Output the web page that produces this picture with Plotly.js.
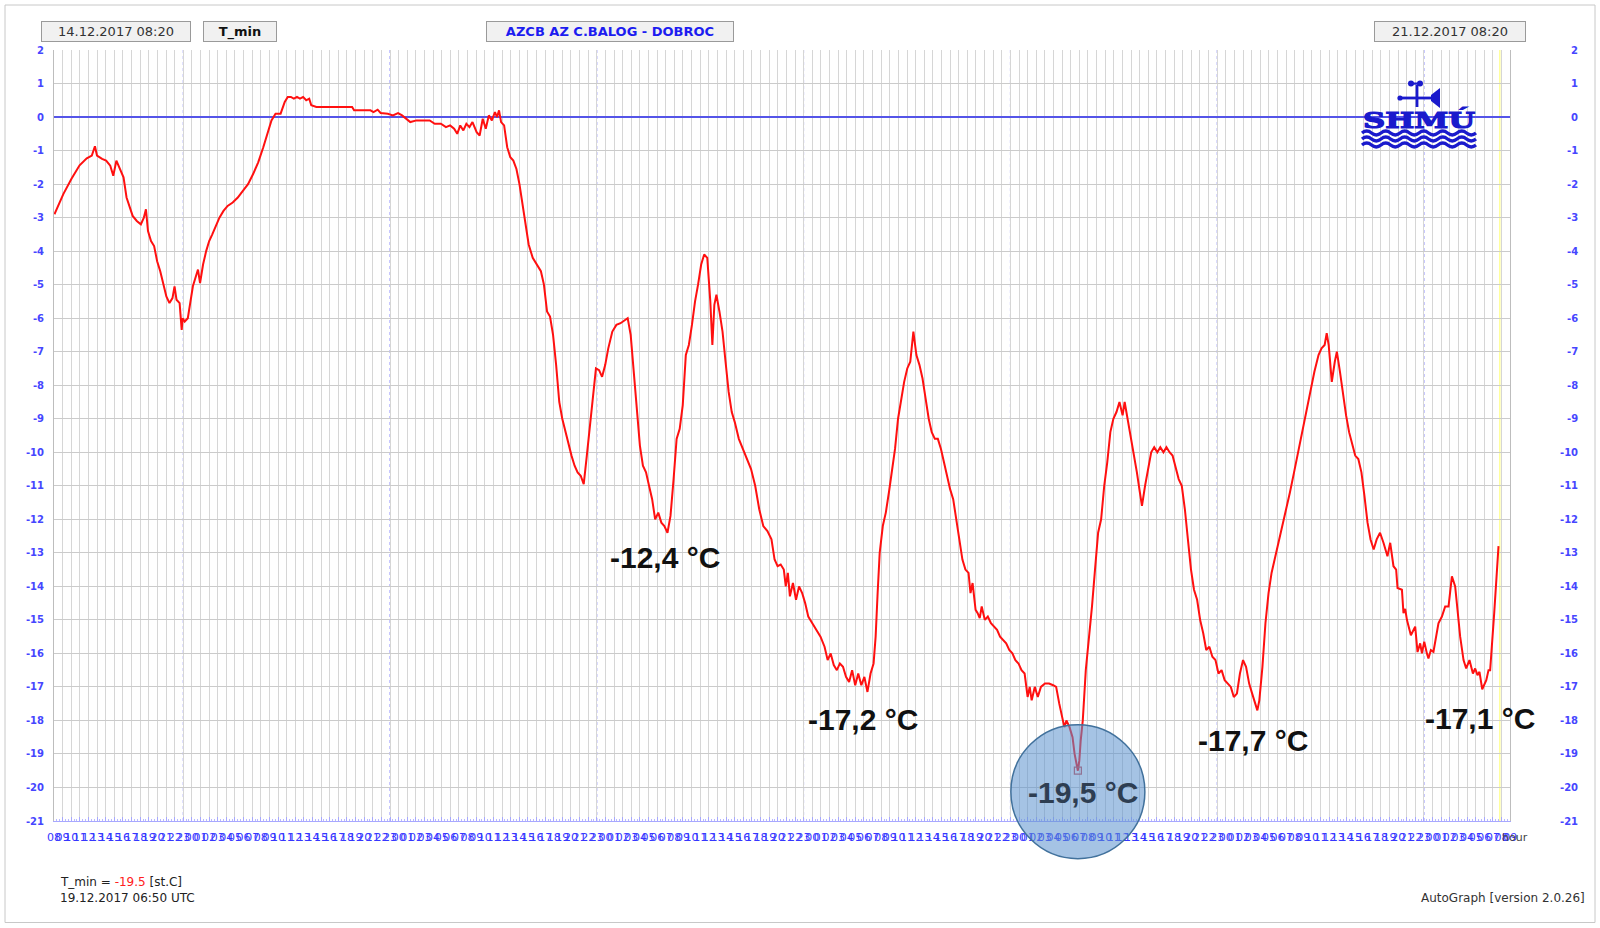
<!DOCTYPE html>
<html>
<head>
<meta charset="utf-8">
<script src="https://cdn.plot.ly/plotly-3.0.1.min.js"></script>
<style>
html,body{margin:0;padding:0;background:#fff;}
#chart{width:1600px;height:928px;}
</style>
</head>
<body>
<div id="chart"></div>
<script>
// ---- DATA ----
// hours since 14.12.2017 08:00 UTC
const hoursSinceStart = [
 0.05, 1.08, 2.03, 2.97, 3.80, 4.39, 4.75, 4.99, 5.58, 6.05,
 6.53, 6.88, 7.24, 7.59, 8.07, 8.42, 8.78, 9.13, 9.61, 10.08,
 10.43, 10.67, 10.91, 11.26, 11.62, 11.97, 12.33, 12.68, 13.04, 13.40,
 13.75, 13.99, 14.22, 14.58, 14.82, 14.93, 15.17, 15.53, 15.76, 16.12,
 16.47, 16.71, 16.95, 17.30, 17.66, 18.01, 18.37, 18.73, 19.20, 19.67,
 20.15, 20.74, 21.33, 21.92, 22.52, 23.11, 23.70, 24.29, 24.77, 25.24,
 25.71, 26.30, 26.78, 27.13, 27.49, 27.84, 28.20, 28.55, 28.91, 29.27,
 29.62, 29.86, 30.45, 31.64, 32.82, 34.00, 34.60, 34.83, 35.78, 36.73,
 37.08, 37.56, 37.91, 38.74, 39.33, 39.93, 40.40, 40.87, 41.35, 42.06,
 42.89, 43.60, 44.19, 44.90, 45.49, 45.97, 46.44, 46.80, 47.15, 47.51,
 47.86, 48.22, 48.57, 49.05, 49.40, 49.76, 50.11, 50.47, 50.82, 51.18,
 51.42, 51.65, 51.89, 52.24, 52.60, 52.96, 53.31, 53.67, 54.02, 54.38,
 54.73, 55.09, 55.56, 56.03, 56.51, 56.86, 57.22, 57.57, 57.92, 58.28,
 58.64, 58.99, 59.35, 59.70, 60.06, 60.42, 60.77, 61.13, 61.48, 61.84,
 62.19, 62.55, 62.90, 63.26, 63.61, 63.97, 64.33, 64.80, 65.27, 65.75,
 66.22, 66.58, 66.93, 67.29, 67.64, 68.00, 68.35, 68.71, 69.06, 69.42,
 69.77, 70.13, 70.49, 70.84, 71.20, 71.55, 71.91, 72.26, 72.62, 72.97,
 73.33, 73.68, 74.04, 74.40, 74.75, 75.11, 75.46, 75.82, 76.17, 76.41,
 76.64, 76.88, 77.23, 77.59, 77.94, 78.30, 78.66, 79.01, 79.48, 79.96,
 80.43, 80.90, 81.38, 81.85, 82.32, 82.80, 83.27, 83.63, 83.98, 84.34,
 84.70, 84.93, 85.17, 85.41, 85.76, 86.12, 86.47, 86.83, 87.18, 87.54,
 88.01, 88.49, 88.96, 89.43, 89.79, 90.14, 90.50, 90.86, 91.21, 91.57,
 91.92, 92.28, 92.63, 92.99, 93.34, 93.70, 94.05, 94.41, 94.77, 95.12,
 95.36, 95.59, 95.83, 96.19, 96.54, 96.90, 97.25, 97.61, 97.96, 98.32,
 98.67, 99.03, 99.38, 99.74, 100.09, 100.45, 100.80, 101.16, 101.52, 101.87,
 102.23, 102.58, 102.94, 103.29, 103.65, 104.00, 104.36, 104.71, 105.07, 105.43,
 105.78, 106.14, 106.37, 106.61, 106.96, 107.20, 107.44, 107.67, 108.03, 108.38,
 108.74, 109.09, 109.45, 109.80, 110.16, 110.51, 110.87, 111.23, 111.58, 111.94,
 112.29, 112.65, 113.00, 113.24, 113.47, 113.83, 114.18, 114.54, 115.01, 115.49,
 115.96, 116.31, 116.67, 117.03, 117.26, 117.50, 117.86, 118.21, 118.45, 118.83,
 119.00, 119.16, 119.40, 119.75, 120.11, 120.47, 120.82, 121.18, 121.53, 121.89,
 122.24, 122.60, 122.95, 123.31, 123.66, 124.02, 124.26, 124.61, 124.97, 125.32,
 125.68, 126.03, 126.27, 126.63, 126.98, 127.34, 127.69, 128.05, 128.40, 128.76,
 129.11, 129.47, 129.82, 130.18, 130.53, 130.89, 131.25, 131.60, 131.96, 132.31,
 132.67, 133.02, 133.38, 133.73, 134.09, 134.44, 134.80, 135.15, 135.51, 135.87,
 136.22, 136.58, 136.93, 137.29, 137.64, 138.00, 138.35, 138.71, 139.06, 139.42,
 139.66, 139.89, 140.25, 140.60, 140.96, 141.31, 141.67, 142.02, 142.49, 142.97,
 143.44, 143.92, 144.39, 144.86, 145.34, 145.81, 146.28, 146.76, 147.11, 147.47,
 147.71, 147.94, 148.30, 148.65, 148.89, 149.25, 149.60, 149.96, 150.31, 150.67,
 151.02, 151.38, 151.74, 152.09, 152.45, 152.80, 153.16, 153.51, 153.90, 154.30,
 154.76, 155.08, 155.46, 155.77, 155.93, 156.44, 156.62, 156.82, 157.02, 157.48,
 157.98, 158.25, 158.56, 158.76, 159.03, 159.34, 159.52, 159.80, 160.10, 160.68,
 161.08, 161.46, 161.85, 162.24, 162.62, 163.20, 163.59, 163.90, 164.28, 164.68,
 164.94, 165.21, 165.44, 165.76, 166.23, 166.49, 166.68, 167.15, 167.65
];
const tMin = [
 -2.9, -2.3, -1.84, -1.44, -1.23, -1.15, -0.87, -1.15, -1.25, -1.3,
 -1.45, -1.75, -1.3, -1.5, -1.8, -2.4, -2.7, -2.95, -3.1, -3.2,
 -3.0, -2.75, -3.4, -3.7, -3.85, -4.3, -4.6, -5.0, -5.35, -5.55,
 -5.4, -5.05, -5.45, -5.55, -6.35, -6.0, -6.1, -6.0, -5.6, -5.05,
 -4.75, -4.55, -4.95, -4.4, -4.0, -3.7, -3.5, -3.3, -3.0, -2.8,
 -2.65, -2.55, -2.4, -2.2, -2.0, -1.7, -1.35, -0.9, -0.5, -0.1,
 0.1, 0.1, 0.45, 0.6, 0.6, 0.55, 0.6, 0.55, 0.6, 0.5,
 0.55, 0.35, 0.3, 0.3, 0.3, 0.3, 0.3, 0.2, 0.2, 0.2,
 0.15, 0.22, 0.12, 0.1, 0.05, 0.12, 0.05, -0.05, -0.15, -0.1,
 -0.1, -0.1, -0.2, -0.2, -0.3, -0.25, -0.35, -0.5, -0.25, -0.4,
 -0.2, -0.3, -0.15, -0.45, -0.55, -0.05, -0.35, 0.05, -0.1, 0.15,
 0.0, 0.2, -0.15, -0.25, -0.9, -1.2, -1.3, -1.55, -2.0, -2.6,
 -3.2, -3.8, -4.2, -4.4, -4.6, -5.0, -5.8, -5.95, -6.5, -7.4,
 -8.5, -9.0, -9.4, -9.7, -10.1, -10.4, -10.6, -10.7, -10.95, -10.1,
 -9.2, -8.3, -7.5, -7.55, -7.75, -7.4, -6.9, -6.4, -6.2, -6.15,
 -6.05, -6.0, -6.5, -7.6, -8.8, -9.8, -10.4, -10.6, -11.0, -11.4,
 -12.0, -11.8, -12.1, -12.2, -12.4, -11.9, -10.8, -9.6, -9.3, -8.6,
 -7.1, -6.8, -6.2, -5.5, -5.0, -4.4, -4.1, -4.2, -5.5, -6.8,
 -5.6, -5.3, -5.8, -6.4, -7.3, -8.2, -8.8, -9.1, -9.6, -9.9,
 -10.2, -10.5, -11.0, -11.7, -12.2, -12.35, -12.6, -13.2, -13.4, -13.35,
 -13.5, -14.0, -13.6, -14.3, -13.9, -14.4, -14.0, -14.2, -14.5, -14.9,
 -15.1, -15.3, -15.5, -15.8, -16.2, -16.0, -16.35, -16.5, -16.3, -16.4,
 -16.7, -16.85, -16.5, -16.95, -16.6, -16.95, -16.7, -17.15, -16.6, -16.3,
 -15.5, -14.2, -13.0, -12.2, -11.8, -11.2, -10.6, -9.9, -9.0, -8.4,
 -7.9, -7.5, -7.3, -6.4, -7.1, -7.4, -7.8, -8.4, -9.0, -9.4,
 -9.6, -9.6, -9.9, -10.3, -10.7, -11.1, -11.4, -12.0, -12.6, -13.2,
 -13.5, -13.6, -14.2, -13.9, -14.7, -14.8, -14.95, -14.6, -15.0, -14.9,
 -15.1, -15.2, -15.3, -15.5, -15.6, -15.7, -15.9, -16.0, -16.2, -16.3,
 -16.5, -16.6, -17.3, -17.0, -17.4, -17.0, -17.3, -17.0, -16.9, -16.9,
 -16.95, -17.0, -17.5, -18.0, -18.2, -18.0, -18.2, -18.5, -19.0, -19.5,
 -19.2, -18.6, -18.0, -16.5, -15.6, -14.6, -13.5, -12.4, -12.0, -11.0,
 -10.3, -9.4, -9.0, -8.8, -8.5, -8.9, -8.5, -9.0, -9.5, -10.0,
 -10.6, -11.2, -11.6, -11.0, -10.5, -10.0, -9.85, -10.0, -9.85, -10.0,
 -9.85, -10.0, -10.1, -10.5, -10.8, -11.0, -11.7, -12.6, -13.5, -14.1,
 -14.4, -15.0, -15.4, -15.9, -15.8, -16.1, -16.2, -16.6, -16.5, -16.8,
 -16.9, -17.0, -17.3, -17.2, -16.6, -16.2, -16.4, -16.9, -17.2, -17.5,
 -17.7, -17.4, -16.4, -15.1, -14.2, -13.6, -13.2, -12.8, -12.3, -11.8,
 -11.2, -10.6, -10.0, -9.5, -8.8, -8.2, -7.6, -7.1, -6.9, -6.8,
 -6.45, -6.8, -7.9, -7.3, -7.0, -7.6, -8.3, -8.9, -9.4, -9.8,
 -10.1, -10.2, -10.6, -11.3, -12.1, -12.6, -12.9, -12.6, -12.4, -12.7,
 -13.1, -12.7, -13.4, -13.5, -14.05, -14.1, -14.8, -14.67, -15.0, -15.46,
 -15.2, -15.96, -15.7, -16.0, -15.65, -16.0, -16.15, -15.9, -15.95, -15.1,
 -14.9, -14.6, -14.6, -13.7, -14.0, -15.5, -16.2, -16.45, -16.2, -16.6,
 -16.45, -16.65, -16.55, -17.07, -16.8, -16.5, -16.5, -14.8, -12.8
];
const yTickVals = [2, 1, 0, -1, -2, -3, -4, -5, -6, -7, -8, -9, -10, -11, -12, -13, -14, -15, -16, -17, -18, -19, -20, -21];
const dayLineTimes = ['2017-12-14 23:00', '2017-12-15 23:00', '2017-12-16 23:00', '2017-12-17 23:00', '2017-12-18 23:00', '2017-12-19 23:00', '2017-12-20 23:00'];
const minLabels = ['-12,4 °C', '-17,2 °C', '-19,5 °C', '-17,7 °C', '-17,1 °C'];
const startLabel = '14.12.2017 08:20';
const endLabel = '21.12.2017 08:20';
const stationLabel = 'AZCB AZ C.BALOG - DOBROC';
const varLabel = 'T_min';
const minValueText = '-19.5';
const minTimeText = '19.12.2017 06:50 UTC';
const nowTime = '2017-12-21 07:48';

// ---- helpers ----
const BASE = Date.UTC(2017, 11, 14, 8, 0, 0);
function stamp(h) {
  const d = new Date(BASE + Math.round(h * 3600) * 1000);
  return d.toISOString().slice(0, 19).replace('T', ' ');
}
const X_START_H = 0, X_END_H = 168 + 59 / 60;
const Y_LO = -21, Y_HI = 2;
const xTimes = hoursSinceStart.map(stamp);
let iMin = 0;
tMin.forEach((v, i) => { if (v < tMin[iMin]) iMin = i; });

// pixel helpers for paper coords (plot area: l=54, t=50, w=1456, h=771)
const L = 54, T = 50, W = 1456, H = 771;
const px = x => (x - L) / W;
const py = y => (T + H - y) / H;

const FONT = 'DejaVu Sans, Verdana, sans-serif';
const BLUE = '#4646ff';

const traces = [
  {
    x: xTimes, y: tMin, type: 'scatter', mode: 'lines',
    line: {color: '#ff1010', width: 2}, hoverinfo: 'skip'
  },
  {
    x: [xTimes[iMin]], y: [tMin[iMin]], type: 'scatter', mode: 'markers',
    marker: {symbol: 'square-open', size: 7, color: '#d04848', line: {width: 1.2}}, hoverinfo: 'skip'
  }
];

const shapes = [];
dayLineTimes.forEach(t => shapes.push({
  type: 'line', xref: 'x', yref: 'paper', x0: t, x1: t, y0: 0, y1: 1,
  line: {color: '#8c8cff', width: 1, dash: 'dot'}, layer: 'between'
}));
shapes.push({
  type: 'line', xref: 'x', yref: 'paper', x0: nowTime, x1: nowTime, y0: 0, y1: 1,
  line: {color: '#ffff9a', width: 1.5}, layer: 'between'
});
// outer frame
shapes.push({
  type: 'rect', xref: 'paper', yref: 'paper', x0: px(5), x1: px(1595), y0: py(922.5), y1: py(5),
  line: {color: '#c8c8c8', width: 1}, fillcolor: 'rgba(0,0,0,0)', layer: 'below'
});
// highlight circle around absolute minimum (paper-anchored so it may extend below the plot)
const minPaperX = (hoursSinceStart[iMin] - X_START_H) / (X_END_H - X_START_H);
const minPaperY = (tMin[iMin] - Y_LO) / (Y_HI - Y_LO);
shapes.push({
  type: 'circle', xref: 'paper', yref: 'paper', xsizemode: 'pixel', ysizemode: 'pixel',
  xanchor: minPaperX, yanchor: minPaperY,
  x0: -67, x1: 67, y0: -88, y1: 46,
  fillcolor: 'rgba(91,145,205,0.55)', line: {color: '#41719c', width: 1.5}, layer: 'above'
});

const annotations = [];
// right-side y tick labels
yTickVals.forEach(v => annotations.push({
  xref: 'paper', yref: 'y', x: px(1580), y: v, xanchor: 'right', yanchor: 'middle',
  text: String(v), showarrow: false, font: {family: FONT, size: 10, color: BLUE, weight: 'bold'}
}));
function box(text, x0, x1, opts) {
  annotations.push(Object.assign({
    xref: 'paper', yref: 'paper', x: px((x0 + x1) / 2), y: py(31), xanchor: 'center', yanchor: 'middle',
    text: text, showarrow: false, width: x1 - x0 - 2, height: 19, borderwidth: 1, borderpad: 0,
    bordercolor: '#9a9a9a', bgcolor: '#f1f1f1', font: {family: FONT, size: 13, color: '#333'}
  }, opts || {}));
}
box(startLabel, 41, 191);
box(varLabel, 203, 277, {font: {family: FONT, size: 13, color: '#111', weight: 'bold'}});
box(stationLabel, 486, 734, {font: {family: FONT, size: 13, color: '#1c1cf0', weight: 'bold'}});
box(endLabel, 1374, 1526);

// min labels
const bigFont = {family: 'Liberation Sans, Arial, sans-serif', size: 30, color: '#111', weight: 'bold'};
const labelPlaces = [[70.90, -13.15], [93.87, -17.96], [119.44, -20.15], [139.12, -18.60], [165.48, -17.93]];
minLabels.forEach((t, i) => annotations.push({
  xref: 'x', yref: 'y', x: stamp(labelPlaces[i][0]), y: labelPlaces[i][1],
  xanchor: 'center', yanchor: 'middle', text: t, showarrow: false,
  font: i === 2 ? Object.assign({}, bigFont, {color: '#2e3e52'}) : bigFont
}));

// footer texts
annotations.push({
  xref: 'paper', yref: 'paper', x: px(58), y: py(881.5), xanchor: 'left', yanchor: 'middle', showarrow: false,
  text: varLabel + ' = <span style="color:#ff2020">' + minValueText + '</span> [st.C]',
  font: {family: FONT, size: 12, color: '#222'}
});
annotations.push({
  xref: 'paper', yref: 'paper', x: px(58), y: py(897.5), xanchor: 'left', yanchor: 'middle', showarrow: false,
  text: minTimeText, font: {family: FONT, size: 12, color: '#222'}
});
annotations.push({
  xref: 'paper', yref: 'paper', x: px(1587), y: py(897.5), xanchor: 'right', yanchor: 'middle', showarrow: false,
  text: 'AutoGraph [version 2.0.26]', font: {family: FONT, size: 12, color: '#333'}
});
annotations.push({
  xref: 'paper', yref: 'paper', x: px(1500), y: py(838), xanchor: 'left', yanchor: 'middle', showarrow: false,
  text: 'hour', font: {family: FONT, size: 11, color: '#444'}
});

// SHMU logo as inline SVG
let wave = '';
[54, 60, 66].forEach(y => {
  let d = 'M2,' + y + ' q4.75,-3.8 9.5,0';
  for (let k = 0; k < 11; k++) d += ' t9.5,0';
  wave += '<path d="' + d + '"/>';
});
const logoSvg =
  '<svg xmlns="http://www.w3.org/2000/svg" width="118" height="70" viewBox="0 0 118 70">' +
  '<g fill="#1a1acc">' +
  '<circle cx="51" cy="4.5" r="3"/><circle cx="60" cy="4.5" r="3"/><rect x="50" y="3.5" width="11" height="2.2"/>' +
  '<rect x="55.6" y="6" width="2.8" height="22"/>' +
  '<rect x="39" y="17.6" width="33" height="2.8"/><circle cx="40" cy="19" r="2.6"/>' +
  '<polygon points="71,16 80,9 80,29 71,22"/>' +
  '<text x="59" y="49" text-anchor="middle" font-family="DejaVu Serif" font-weight="bold" font-size="23" stroke="#1a1acc" stroke-width="1.2" textLength="112" lengthAdjust="spacingAndGlyphs">SHMÚ</text>' +
  '</g><g fill="none" stroke="#1a1acc" stroke-width="3.4">' + wave + '</g></svg>';

const layout = {
  width: 1600, height: 928,
  margin: {l: L, r: 1600 - L - W, t: T, b: 928 - T - H, pad: 0},
  paper_bgcolor: '#ffffff', plot_bgcolor: '#ffffff',
  showlegend: false,
  font: {family: FONT},
  xaxis: {
    type: 'date', range: [stamp(X_START_H), stamp(X_END_H)],
    tick0: '2017-12-14 08:00', dtick: 3600000, tickformat: '%H', tickangle: 0,
    tickfont: {family: FONT, size: 11, color: '#3636ff'},
    showgrid: true, gridcolor: '#d6d6d6', gridwidth: 1,
    showline: true, linecolor: '#a8a8ff', linewidth: 1,
    ticks: 'inside', ticklen: 4, tickcolor: '#a8a8ff', ticklabelstandoff: 6,
    minor: {dtick: 1200000, ticks: 'inside', ticklen: 2, tickcolor: '#b8b8ff', showgrid: false},
    zeroline: false, fixedrange: true
  },
  yaxis: {
    range: [Y_LO, Y_HI], tickvals: yTickVals, ticktext: yTickVals.map(String),
    tickfont: {family: FONT, size: 10, color: BLUE, weight: 'bold'},
    showgrid: true, gridcolor: '#cbcbcb', gridwidth: 1,
    zeroline: true, zerolinecolor: '#5555e8', zerolinewidth: 2,
    showline: true, mirror: true, linecolor: '#bdbdbd', linewidth: 1,
    ticks: '', ticklabelstandoff: 7, fixedrange: true
  },
  shapes: shapes,
  annotations: annotations,
  images: [{
    source: 'data:image/svg+xml;charset=utf-8,' + encodeURIComponent(logoSvg),
    xref: 'paper', yref: 'paper', x: px(1360), y: py(79), sizex: 118 / W, sizey: 70 / H,
    xanchor: 'left', yanchor: 'top', sizing: 'stretch', layer: 'above'
  }]
};

Plotly.newPlot('chart', traces, layout, {staticPlot: true, displayModeBar: false});
</script>
</body>
</html>
